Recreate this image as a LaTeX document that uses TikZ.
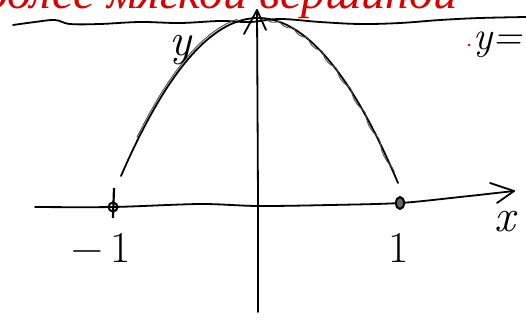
\documentclass[tikz,border=0pt]{standalone}
\usepackage{fontspec}
\usetikzlibrary{shapes.geometric}
\newfontfamily\redhand{Liberation Serif Italic}
\tikzset{
  pen/.style={line width=1.8pt, black, line cap=round, line join=round},
  thinpen/.style={line width=0.9pt, black!70, line cap=round},
  lab/.style={inner sep=0pt, font=\fontsize{44}{44}\selectfont},
  ilab/.style={inner sep=0pt, font=\fontsize{46}{46}\selectfont\itshape}
}
\begin{document}
\begin{tikzpicture}[x=1pt,y=-1pt]
\useasboundingbox (0,0) rectangle (526,327);
\fill[white] (0,0) rectangle (526,327);
% red handwritten text, cut off at the top edge
\begin{scope}
\clip (0,0) rectangle (526,327);
\node[anchor=base west, inner sep=0pt, text=red!85!black,
      font=\fontsize{48}{48}\redhand] (redtext) at (-16,8) {более мягкой вершиной};
\end{scope}
% top wavy line
\draw[pen] plot[smooth, tension=0.6] coordinates {(13,25) (35,22) (55,20) (70,24) (100,24) (140,22) (180,23) (220,21) (250,22) (280,19) (320,22) (360,24) (400,23) (440,20) (480,18) (526,17)};
% x axis
\coordinate (xl) at (35,207);
\coordinate (xr) at (514,191);
\draw[pen] plot[smooth, tension=0.5] coordinates {(xl) (113,207) (200,204) (258,206) (330,205) (400,203) (460,197) (xr)};
\draw[pen] (490,183) -- (xr) -- (497,203);
% y axis
\coordinate (yb) at (258,312);
\coordinate (yt) at (257,10);
\draw[pen] (yb) -- (258,200) -- (yt);
\draw[pen] (244,34) -- (yt) -- (266,30);
% tick at origin
\draw[line width=2.6pt] (258,194) -- (258,216);
% parabola
\draw[pen] plot[domain=-137:0, samples=40, smooth] ({258+\x},{18+(\x/10.9)^2});
\draw[pen] plot[domain=0:140, samples=40, smooth] ({258+\x},{18+(\x/10.9)^2});
\draw[thinpen] plot[domain=10:136, samples=60, smooth] ({258+\x+1.5*sin(\x*25)},{19+(\x/10.9)^2+1.5*cos(\x*25)});
\draw[thinpen] plot[domain=-120:-20, samples=20, smooth] ({257+\x},{16+(\x/10.9)^2});
% marked points
\node[draw, line width=2pt, circle, minimum size=9pt, inner sep=0pt] (pm) at (113,207) {};
\draw[line width=2.2pt] (114,188) -- (113,218);
\node[draw, fill=black!60, line width=2pt, ellipse, minimum width=8pt, minimum height=12pt, inner sep=0pt] (pp) at (400,203) {};
% labels
\node[lab] (lm1) at (101,248) {\char"2212\,1};
\node[lab] (l1) at (399,248) {1};
\node[ilab] (lx) at (505,222) {x};
\node[ilab] (ly) at (180,50) {y};
\node[inner sep=0pt, anchor=west, font=\fontsize{40}{40}\selectfont\itshape] (lyeq) at (473,45) {y=};
\fill[red] (469,45) circle (1.5);
\end{tikzpicture}
\end{document}
